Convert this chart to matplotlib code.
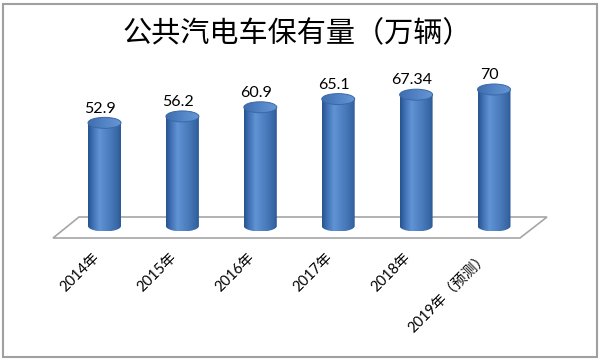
import numpy as np
import matplotlib
matplotlib.use("Agg")
import matplotlib.pyplot as plt
from matplotlib.patches import Polygon, Ellipse, Rectangle
from matplotlib.colors import LinearSegmentedColormap

# ---------------- data ----------------
title = "公共汽电车保有量（万辆）"
categories = ["2014年", "2015年", "2016年", "2017年", "2018年", "2019年（预测）"]
values = [52.9, 56.2, 60.9, 65.1, 67.34, 70]
value_labels = ["52.9", "56.2", "60.9", "65.1", "67.34", "70"]

# ---------------- layout (pixels) ----------------
W, H, DPI = 600, 361, 100
x0_px, dx_px = 104.5, 77.9      # first category centre, spacing
y0_px, dy_px = 226.0, 1.95      # baseline pixel, pixels per unit

fig = plt.figure(figsize=(W / DPI, H / DPI), dpi=DPI)
ax = fig.add_axes([0, 0, 1, 1])
ax.set_xlim(-x0_px / dx_px, (W - x0_px) / dx_px)
ax.set_ylim((y0_px - H) / dy_px, y0_px / dy_px)
ax.axis("off")

def px_to_data(px, py):
    return (px - x0_px) / dx_px, (y0_px - py) / dy_px

# floor parallelogram
floor_px = [(79, 217), (547, 217), (520, 238), (53, 238)]
floor = Polygon([px_to_data(*p) for p in floor_px], closed=True,
                facecolor="white", edgecolor="#A6A6A6", linewidth=1.2, zorder=1)
ax.add_patch(floor)

body_cmap = LinearSegmentedColormap.from_list(
    "body", [(0.0, "#26538F"), (0.12, "#3A6BAE"), (0.35, "#6194D4"),
             (0.6, "#4F81C2"), (0.88, "#3A69A8"), (1.0, "#2D5A96")])
cap_cmap = LinearSegmentedColormap.from_list(
    "cap", [(0.0, "#3F6EAE"), (0.5, "#5384C5"), (1.0, "#6696D4")])

hw = 16.5 / dx_px          # half width in data units
b = 5.5 / dy_px            # ellipse semi-minor in data units
t = np.linspace(0, np.pi, 60)
grad = np.linspace(0, 1, 256).reshape(1, -1)

for i, v in enumerate(values):
    # body outline: bottom front half-ellipse + sides up to value
    bx = i - hw * np.cos(t)
    by = 0 - b * np.sin(t)
    pts = list(zip(bx, by)) + [(i + hw, v), (i - hw, v)]
    body = Polygon(pts, closed=True, facecolor="none", edgecolor="none", zorder=3)
    ax.add_patch(body)
    im = ax.imshow(grad, cmap=body_cmap, aspect="auto",
                   extent=[i - hw, i + hw, -b, v], zorder=3, interpolation="bilinear")
    im.set_clip_path(body)
    # top cap
    cap = Ellipse((i, v), 2 * hw, 2 * b, facecolor="none", edgecolor="none", zorder=4)
    ax.add_patch(cap)
    imc = ax.imshow(grad, cmap=cap_cmap, aspect="auto",
                    extent=[i - hw, i + hw, v - b, v + b], zorder=4, interpolation="bilinear")
    imc.set_clip_path(cap)
    ax.add_patch(Ellipse((i, v), 2 * hw, 2 * b, facecolor="none",
                         edgecolor="#3A68A8", linewidth=0.7, zorder=5))
    # value label
    ax.text(i - 0.055, v + 7.3, value_labels[i], ha="center", va="center",
            fontsize=11.5, family=["Lato", "Noto Sans CJK SC"], color="black", zorder=6)

# category labels
for i, c in enumerate(categories):
    ax.text(i - 0.1, -14.8, c, rotation=45, rotation_mode="anchor",
            ha="right", va="center", fontsize=10.5,
            family=["Lato", "Noto Sans CJK SC"], color="black")

# title
fig.text(297 / W, 1 - 34.5 / H, title, ha="center", va="center",
         fontsize=21, family=["Noto Sans CJK SC", "DejaVu Sans"], color="black")

# outer frame
fig.patches.append(Rectangle((3 / W, 4 / H), 594 / W, 353 / H, transform=fig.transFigure,
                             facecolor="none", edgecolor="#A0A0A0", linewidth=1.5))

fig.savefig("out.png", dpi=DPI)
